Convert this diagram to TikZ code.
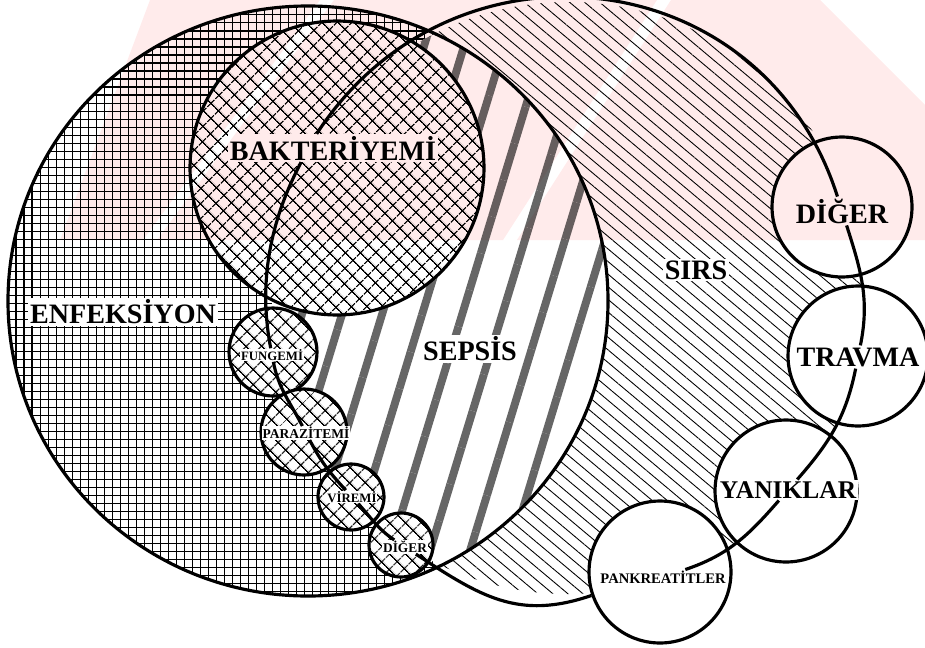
\documentclass[tikz,border=0pt]{standalone}
\usepackage{fontspec}
\setmainfont{Liberation Serif}
\usetikzlibrary{patterns.meta}

\begin{document}
\begin{tikzpicture}[x=0.02cm, y=0.02cm, line join=round]
        \tikzstyle{setname} = [fill=white, inner sep=1pt, font=\bfseries\fontsize{16}{16}\selectfont]
        \tikzstyle{smallname} = [fill=white, inner sep=0.5pt, font=\bfseries\fontsize{7.3}{7.3}\selectfont]
        \tikzstyle{subset} = [circle, draw, line width=1.8pt, inner sep=0pt]
        \tikzstyle{crosshatch} = [preaction={fill=white}, pattern={Hatch[angle=45, distance=6.5pt, line width=.7pt]}]
        \tikzstyle{chain} = [line width=1.8pt]
        \tikzstyle{watermark} = [fill=red!8, blend mode=multiply]

\useasboundingbox (0,0) rectangle (925,647);

% the three regions of the two big sets
\begin{scope}
            \clip (308,346) ellipse [x radius=300, y radius=295];
            \draw[line width=.57pt, step=8] (0,40) grid (624,656);
            \fill[white] (568,349) circle [radius=296];
            \fill[pattern={Lines[angle=73, distance=21.8pt, line width=4.5pt]}, pattern color=black!60] (568,349) circle [radius=296];
        \end{scope}
        \begin{scope}[even odd rule]
            \clip (568,349) circle [radius=296] (308,346) ellipse [x radius=300, y radius=295];
            \fill[pattern={Lines[angle=-40, distance=5.5pt, line width=.5pt]}] (568,349) circle [radius=296];
        \end{scope}
        \draw[line width=1.8pt] (308,346) ellipse [x radius=300, y radius=295];

\node[subset, crosshatch, minimum size=5.88cm] (cBak) at (337,479) {};
        \node[subset, crosshatch, minimum size=1.76cm] (cFun) at (273,295) {};
        \node[subset, crosshatch, minimum size=1.72cm] (cPar) at (304,215) {};
        \node[subset, crosshatch, minimum size=1.32cm] (cVir) at (351,150) {};
        \node[subset, crosshatch, minimum size=1.28cm] (cDig) at (401,102) {};
        \node[subset, fill=white, minimum size=2.8cm] (cDiger) at (842,440) {};
        \node[subset, fill=white, minimum size=2.8cm] (cTrav) at (858,291) {};
        \node[subset, fill=white, minimum size=2.84cm] (cYan) at (786,156) {};
        \node[subset, fill=white, minimum size=2.84cm] (cPank) at (660,75) {};

\node[setname] (enf) at (123,335) {ENFEKSİYON};
        \node[setname] (bak) at (333,499) {BAKTERİYEMİ};
        \node[setname] (sep) at (470,298) {SEPSİS};
        \node[setname] (sirs) at (696,377) {SIRS};
        \node[setname] (diger) at (842,436) {DİĞER};
        \node[setname] (trav) at (858,290) {TRAVMA};
        \node[setname, font=\bfseries\fontsize{14.5}{14.5}\selectfont] (yan) at (788,157) {YANIKLAR};
        \node[smallname, font=\bfseries\fontsize{8.3}{8.3}\selectfont] (pank) at (663,70) {PANKREATİTLER};
        \node[smallname] (fun) at (272,292) {FUNGEMİ};
        \node[smallname, font=\bfseries\fontsize{7.7}{7.7}\selectfont] (par) at (306,214) {PARAZİTEMİ};
        \node[smallname] (vir) at (352,150) {VİREMİ};
        \node[smallname, font=\bfseries\fontsize{7.6}{7.6}\selectfont] (dig) at (405,100) {DİĞER};

% SIRS border, from name to name
\draw[chain] (bak.139.8) to[out=57, in=107.6, looseness=1.21] (diger);
        \draw[chain] (diger) to[out=-72.4, in=78.5] (trav);
        \draw[chain] (trav) to[out=-101.5, in=48.9] (yan);
        \draw[chain] (yan) to[out=-131.1, in=18.8] (pank);
        \draw[chain] (cPank) to[out=-161.2, in=-33.2, looseness=1.1] (dig);
        \draw[chain] (dig) to[out=146.8, in=-47.3] (vir);
        \draw[chain] (vir) to[out=132.7, in=-62.7] (par);
        \draw[chain] (par) to[out=117.3, in=-79.1] (fun);
        \draw[chain] (fun) to[out=100.9, in=-117.8, looseness=.91] (bak.204);

% pale stamp behind the top of the page
\fill[watermark] (150,647) -- (320,647) -- (143,407) -- (60,407) -- cycle;
        \fill[watermark] (334,647) -- (657,647) -- (503,407) -- (157,407) -- cycle;
        \fill[watermark] (671,647) -- (820,647) -- (925,542) -- (925,407) -- (517,407) -- cycle;

    \end{tikzpicture}
\end{document}
